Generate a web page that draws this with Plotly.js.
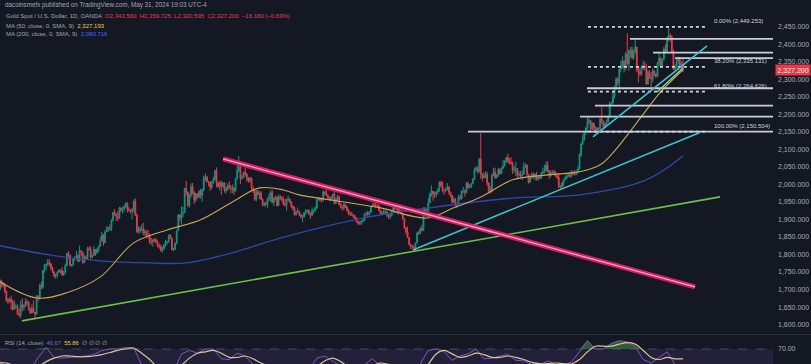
<!DOCTYPE html>
<html><head><meta charset="utf-8">
<script src="https://cdn.plot.ly/plotly-3.0.1.min.js"></script>
<style>html,body{margin:0;padding:0;background:#141823;overflow:hidden}#chart{width:811px;height:364px}</style>
</head><body><div id="chart"></div>
<script>
// Daily sessions, Oct 3 2022 .. May 31 2024 (one value per session)
const closes = [
1701,1725,1716,1712,1695,1668,1666,1673,1666,1644,1650,1652,1629,1627,1657,1649,1652,1665,1663,1645,1633,
1647,1636,1630,1681,1676,1712,1706,1755,1771,1772,1778,1774,1761,1751,1738,1740,1750,1755,1754,1741,1749,1768,
1803,1797,1769,1771,1787,1789,1797,1781,1810,1807,1777,1793,1788,1817,1814,1792,1798,1814,1804,1815,1824,
1839,1855,1833,1865,1872,1877,1875,1897,1920,1916,1908,1905,1932,1926,1931,1936,1946,1929,1928,1923,1928,
1951,1912,1865,1867,1872,1874,1861,1865,1854,1854,1836,1836,1842,1841,1835,1825,1822,1811,1817,1826,
1836,1836,1855,1846,1813,1815,1831,1868,1913,1904,1918,1919,1989,1978,1940,1970,1993,1978,1956,1973,1964,1980,1969,
1984,2020,2021,2008,2007,1991,2003,2014,2040,2004,1995,2005,1994,2004,1983,1989,1997,1990,1988,1990,
1982,2017,2039,2050,2017,2021,2035,2030,2015,2010,2017,1989,1982,1957,1978,1971,1975,1957,1941,1946,1943,1959,1963,
1977,1948,1961,1963,1940,1965,1961,1957,1943,1942,1958,1958,1950,1936,1932,1913,1921,1923,1913,1907,1908,1919,
1921,1926,1915,1911,1925,1925,1932,1957,1961,1955,1955,1979,1976,1969,1962,1954,1965,1972,1946,1959,1965,
1944,1934,1933,1943,1936,1925,1915,1913,1914,1906,1901,1892,1889,1889,1895,1898,1915,1917,1914,1921,1937,1942,1940,
1940,1939,1926,1916,1919,1919,1922,1913,1908,1910,1924,1934,1931,1930,1920,1925,1916,1901,1875,1865,1849,
1828,1822,1821,1820,1833,1861,1860,1874,1868,1933,1919,1923,1947,1974,1981,1973,1971,1979,1985,2006,1996,1983,
1983,1985,1993,1978,1969,1950,1958,1940,1946,1963,1959,1981,1981,1977,2002,1990,1992,2002,2014,2042,2045,2036,
2072,2029,2019,2025,2028,2004,1982,1980,2027,2035,2019,2027,2041,2031,2046,2053,2067,2077,2065,2063,
2059,2041,2043,2045,2027,2029,2025,2029,2049,2055,2029,2006,2023,2029,2021,2029,2015,2021,2018,2032,2037,2039,
2055,2039,2025,2035,2035,2034,2024,2020,1992,1992,2004,2013,2018,2025,2025,2024,2036,2031,2029,2034,2044,
2083,2115,2128,2148,2160,2179,2182,2158,2175,2162,2155,2160,2157,2186,2181,2165,2172,2179,2195,2232,2233,
2251,2280,2300,2291,2329,2339,2352,2333,2372,2344,2383,2383,2361,2379,2392,2327,2322,2316,2332,2337,2335,2286,
2320,2303,2301,2324,2314,2309,2346,2360,2336,2358,2386,2377,2415,2425,2421,2379,2329,2334,2351,2360,2338,2343,2327.2
];
const highs = [
1704,1730,1726,1721,1718,1697,1676,1677,1682,1671,1669,1660,1657,1646,1669,1675,1659,1675,1671,1667,1648,
1658,1669,1636,1684,1684,1717,1722,1756,1772,1774,1787,1786,1774,1765,1750,1745,1752,1758,1757,1764,1754,1774,
1804,1810,1800,1773,1789,1795,1810,1800,1825,1813,1807,1798,1797,1822,1823,1823,1800,1823,1815,1820,1826,
1850,1865,1858,1869,1881,1878,1886,1901,1922,1930,1917,1924,1936,1935,1936,1942,1949,1949,1935,1929,1932,
1957,1960,1917,1880,1881,1886,1890,1872,1869,1870,1860,1847,1844,1847,1847,1840,1832,1828,1822,1830,
1842,1838,1857,1858,1848,1819,1835,1870,1915,1913,1937,1936,1990,2010,1980,1973,2003,2004,1980,1975,1975,1984,1987,
1989,2025,2032,2024,2010,2008,2010,2022,2040,2048,2008,2010,2011,2007,2006,1994,2003,2009,1998,2000,
1992,2019,2063,2081,2056,2027,2036,2048,2031,2021,2022,2020,1994,1985,1984,1984,1981,1980,1960,1949,1951,1962,1975,
1983,1983,1963,1969,1966,1971,1970,1966,1965,1958,1959,1968,1960,1951,1941,1937,1925,1934,1925,1916,1913,1921,
1930,1928,1929,1920,1935,1929,1938,1959,1964,1963,1959,1983,1981,1987,1971,1964,1966,1973,1982,1962,1970,
1967,1947,1940,1947,1945,1937,1930,1923,1921,1915,1913,1907,1897,1895,1898,1904,1917,1922,1925,1924,1938,1947,1949,
1953,1945,1942,1927,1923,1929,1926,1925,1917,1917,1928,1937,1937,1947,1931,1930,1926,1916,1903,1879,1880,
1850,1831,1827,1826,1834,1865,1868,1877,1885,1934,1934,1933,1962,1976,1997,1981,1980,1980,1990,2009,2010,2008,
1987,1992,2004,1994,1978,1970,1965,1961,1947,1970,1971,1983,1993,1986,2007,2008,2000,2004,2018,2048,2052,2051,
2075,2146,2031,2035,2037,2036,2007,1995,2030,2048,2047,2030,2047,2046,2049,2070,2069,2078,2088,2075,
2078,2065,2053,2064,2047,2037,2038,2040,2063,2060,2057,2030,2025,2034,2034,2032,2036,2025,2025,2035,2048,2055,
2065,2066,2040,2040,2040,2043,2037,2029,2032,1998,2007,2016,2023,2031,2033,2035,2041,2037,2041,2039,2052,
2088,2120,2142,2152,2165,2195,2189,2184,2177,2175,2166,2163,2163,2189,2222,2181,2176,2185,2196,2236,2236,
2265,2281,2305,2305,2330,2354,2365,2354,2378,2431,2384,2392,2393,2385,2417,2392,2334,2335,2340,2353,2350,2344,
2326,2326,2320,2331,2327,2318,2349,2378,2364,2359,2392,2400,2422,2450,2431,2426,2385,2342,2358,2365,2362,2351,2359.7
];
const lows = [
1660,1697,1706,1706,1690,1666,1659,1662,1642,1640,1643,1645,1628,1622,1617,1638,1640,1650,1655,1640,1631,
1632,1634,1616,1628,1666,1672,1700,1702,1748,1755,1766,1767,1755,1747,1735,1730,1734,1747,1746,1739,1740,1745,
1768,1787,1766,1765,1766,1781,1786,1778,1779,1796,1773,1775,1784,1787,1811,1785,1792,1797,1796,1802,1807,
1822,1838,1825,1833,1865,1864,1867,1867,1894,1911,1896,1895,1901,1921,1917,1922,1932,1920,1921,1917,1900,
1920,1910,1861,1860,1860,1867,1855,1853,1848,1845,1830,1827,1822,1836,1831,1820,1816,1808,1805,1813,
1822,1829,1834,1845,1812,1809,1812,1829,1867,1895,1886,1906,1919,1968,1935,1934,1962,1971,1944,1950,1959,1960,1959,
1950,1980,2010,2004,1995,1981,1986,2002,2011,1992,1990,1983,1969,1990,1976,1974,1981,1986,1974,1975,
1970,1979,2012,2034,2001,2014,2018,2022,2008,2004,2006,1985,1975,1953,1951,1969,1958,1957,1937,1936,1939,1932,1952,
1951,1946,1938,1954,1936,1939,1956,1951,1940,1937,1925,1952,1946,1932,1925,1912,1911,1919,1910,1903,1893,1904,
1912,1919,1913,1902,1910,1915,1922,1930,1954,1951,1948,1951,1968,1966,1957,1952,1954,1955,1943,1943,1951,
1940,1931,1925,1927,1932,1922,1913,1910,1910,1905,1901,1890,1885,1884,1884,1891,1895,1911,1905,1911,1918,1935,1937,
1932,1936,1923,1914,1915,1914,1915,1907,1901,1901,1911,1920,1926,1926,1913,1919,1914,1900,1873,1857,1847,
1826,1815,1816,1813,1810,1832,1856,1857,1866,1868,1912,1908,1922,1946,1965,1953,1961,1963,1971,1978,1992,1977,
1970,1978,1982,1970,1963,1945,1947,1937,1932,1940,1956,1957,1975,1965,1974,1988,1989,1990,2001,2013,2036,2031,
2034,2016,2009,2017,2018,1995,1975,1973,1977,2024,2015,2017,2021,2028,2030,2044,2051,2061,2061,2057,
2057,2030,2034,2024,2016,2022,2020,2013,2029,2047,2023,2002,2007,2015,2016,2011,2011,2010,2015,2014,2030,2031,
2035,2035,2015,2021,2030,2025,2021,2015,1990,1984,1990,1995,2011,2016,2021,2019,2020,2027,2025,2026,2031,
2043,2079,2112,2124,2141,2155,2170,2150,2156,2154,2152,2146,2146,2151,2172,2157,2160,2168,2175,2190,2224,
2228,2245,2270,2283,2268,2319,2331,2319,2325,2341,2324,2362,2357,2355,2373,2320,2291,2309,2310,2327,2325,2285,
2285,2301,2277,2291,2308,2303,2306,2337,2334,2336,2354,2373,2376,2409,2407,2375,2326,2325,2332,2341,2335,2323,2320.6
];
const firstOpen = 1660;

// Moving averages (session index, price)
const ma50Idx = [1,24,43,64,85,106,127,147,164,179,189,208,240,269,286,303,323,345,365,378,386,407,416,430];
const ma50Val = [1722,1676,1691,1736,1833,1870,1899,1950,1990,1984,1970,1956,1933,1904,1933,1964,2013,2027,2036,2056,2090,2212,2264,2327];
const ma200Idx = [1,32,64,95,118,147,177,229,271,323,365,407,430];
const ma200Val = [1825,1799,1782,1776,1776,1805,1847,1904,1933,1961,1970,2013,2081];

// RSI pane, read every 5 sessions
const rsiVal = [55,42,38,43,40,58,72,58,57,58,58,60,62,68,70,70,72,72,47,37,35,42,38,63,68,64,70,70,56,55,64,60,48,42,47,45,44,38,36,40,57,60,52,43,38,31,48,56,46,44,48,30,22,49,68,70,66,54,60,63,70,56,57,60,62,54,53,48,47,53,48,46,52,66,82,70,70,78,82,80,74,55,50,58,66,48,47];
const rsiMaVal = [50,50,46,43,41,45,52,57,60,60,59,59,60,62,65,68,70,71,64,55,44,38,39,47,57,64,66,68,64,58,58,60,56,50,46,46,45,42,39,38,45,53,57,52,44,37,38,46,50,48,46,40,32,34,48,63,68,63,58,60,64,62,58,58,60,58,55,51,49,49,50,49,49,55,66,74,74,74,77,79,77,68,58,55,58,56,56];
const rsiStep = 5;

// Axis ticks
const priceTicks = [1600,1650,1700,1750,1800,1850,1900,1950,2000,2050,2100,2150,2200,2250,2300,2350,2400,2450];
const rsiTicks = [70,50];

// Drawings (session index, price)
const fibLevels = [2449.253, 2335.131, 2264.626, 2150.504];
const fibLabels = ['0.00% (2,449.253)','38.20% (2,335.131)','61.80% (2,264.626)','100.00% (2,150.504)'];
const fibFrom = 370.3, fibTo = 445.1;
const hLevels = [2414.9, 2375.8, 2359.9, 2274.3, 2224.7, 2193.3, 2150.5];
const hStart  = [396.7, 411.2, 425.0, 369.7, 374.7, 365.3, 295.0];
const pinkX = [141.1, 437.6], pinkY = [2072.6, 1707.6];
const greenX = [14.8, 453.3], greenY = [1610.6, 1964.3];
const tealX = [260.4, 440.7], tealY = [1813.1, 2148.2];
const teal2X = [373.5, 445.1], teal2Y = [2135.4, 2395.0];
const lgX = [413.7, 430.0], lgY = [2263.7, 2332.2];

const idx = closes.map((_, i) => i);
const opens = closes.map((c, i) => i === 0 ? firstOpen : closes[i - 1]);
const rsiIdx = rsiVal.map((_, k) => k * rsiStep);
const fmt = v => v.toLocaleString('en-US', {minimumFractionDigits: 3, maximumFractionDigits: 3});

const FONT = 'Liberation Sans, Arial, sans-serif';
const traces = [];
traces.push({type:'candlestick', x: idx, open: opens, high: highs, low: lows, close: closes,
  increasing:{line:{color:'#089981', width:1}, fillcolor:'#089981'},
  decreasing:{line:{color:'#f23645', width:1}, fillcolor:'#f23645'},
  whiskerwidth:0, hoverinfo:'skip', showlegend:false, xaxis:'x', yaxis:'y'});
traces.push({type:'scatter', mode:'lines', x: ma200Idx, y: ma200Val, line:{color:'#2f48a8', width:1.3, shape:'spline'}, hoverinfo:'skip', showlegend:false});
traces.push({type:'scatter', mode:'lines', x: ma50Idx, y: ma50Val, line:{color:'#c9a557', width:1.1, shape:'spline'}, hoverinfo:'skip', showlegend:false});
// horizontal levels
hLevels.forEach((lv, i) => traces.push({type:'scatter', mode:'lines', x:[hStart[i], 520], y:[lv, lv], line:{color:'#c9ccd4', width:1.8}, hoverinfo:'skip', showlegend:false}));
fibLevels.forEach(lv => traces.push({type:'scatter', mode:'lines', x:[fibFrom, fibTo], y:[lv, lv], line:{color:'#d1d4dc', width:1.6, dash:'dot'}, hoverinfo:'skip', showlegend:false}));
// trend lines
traces.push({type:'scatter', mode:'lines', x: greenX, y: greenY, line:{color:'#6cc04a', width:1.6}, hoverinfo:'skip', showlegend:false});
traces.push({type:'scatter', mode:'lines', x: tealX, y: tealY, line:{color:'#3fc3cc', width:1.6}, hoverinfo:'skip', showlegend:false});
traces.push({type:'scatter', mode:'lines', x: teal2X, y: teal2Y, line:{color:'#3fc3cc', width:1.6}, hoverinfo:'skip', showlegend:false});
traces.push({type:'scatter', mode:'lines', x: lgX, y: lgY, line:{color:'#8fd694', width:1.4}, hoverinfo:'skip', showlegend:false});
traces.push({type:'scatter', mode:'lines', x: pinkX, y: pinkY, line:{color:'#d81b60', width:5}, hoverinfo:'skip', showlegend:false});
traces.push({type:'scatter', mode:'lines', x: pinkX, y: pinkY, line:{color:'#f7a9c8', width:1.3}, hoverinfo:'skip', showlegend:false});
// RSI
traces.push({type:'scatter', mode:'lines', x: rsiIdx, y: rsiVal.map(() => 70), line:{width:0}, hoverinfo:'skip', showlegend:false, xaxis:'x', yaxis:'y2'});
traces.push({type:'scatter', mode:'lines', x: rsiIdx, y: rsiVal.map(v => Math.max(v, 70)), line:{width:0}, fill:'tonexty', fillcolor:'rgba(76,175,80,0.45)', hoverinfo:'skip', showlegend:false, xaxis:'x', yaxis:'y2'});
traces.push({type:'scatter', mode:'lines', x: rsiIdx, y: rsiVal, line:{color:'#7e57c2', width:1}, hoverinfo:'skip', showlegend:false, xaxis:'x', yaxis:'y2'});
traces.push({type:'scatter', mode:'lines', x: rsiIdx, y: rsiMaVal, line:{color:'#d9c78f', width:1.2, shape:'spline'}, hoverinfo:'skip', showlegend:false, xaxis:'x', yaxis:'y2'});

const W = 811, H = 364;
const py = px => 1 - px / H;
const gray = '#a3a6ae';
const annotations = [
  {xref:'paper', yref:'paper', x:3/773, y:py(5), xanchor:'left', yanchor:'middle', showarrow:false,
   text:'dacoinsmefx published on TradingView.com, May 31, 2024 19:03 UTC-4', font:{family:FONT, size:6.3, color:gray}},
  {xref:'paper', yref:'paper', x:4/773, y:py(16.5), xanchor:'left', yanchor:'middle', showarrow:false,
   text:'Gold Spot / U.S. Dollar, 1D, OANDA  <span style="color:#e0404f">O2,343.560  H2,359.725  L2,320.595  C2,327.200  \u221216.160 (\u22120.69%)</span>', font:{family:FONT, size:6, color:gray}},
  {xref:'paper', yref:'paper', x:4/773, y:py(25.7), xanchor:'left', yanchor:'middle', showarrow:false,
   text:'MA (50, close, 0, SMA, 9)  <span style="color:#e8cf5a">2,327.193</span>', font:{family:FONT, size:6, color:gray}},
  {xref:'paper', yref:'paper', x:4/773, y:py(34.3), xanchor:'left', yanchor:'middle', showarrow:false,
   text:'MA (200, close, 0, SMA, 9)  <span style="color:#3d6bff">2,080.716</span>', font:{family:FONT, size:6, color:gray}},
  {xref:'paper', yref:'paper', x:3/773, y:py(343), xanchor:'left', yanchor:'middle', showarrow:false,
   text:'RSI (14, close)  <span style="color:#8a63d2">46.67</span>  <span style="color:#e8cf5a">55.86</span>  \u2205 \u2205 \u2205 \u2205', font:{family:FONT, size:5.8, color:gray}},
  {xref:'paper', yref:'y', x:1, y:closes[closes.length-1], xanchor:'left', yanchor:'middle', xshift:2, showarrow:false,
   text:'2,327.200', bgcolor:'#f23645', borderpad:1.5, font:{family:FONT, size:7, color:'#ffffff'}}
];
fibLevels.forEach((lv, i) => annotations.push({xref:'x', yref:'y', x:448.2, y:lv, xanchor:'left', yanchor:'bottom', yshift:1, showarrow:false,
  text: fibLabels[i], font:{family:FONT, size:6, color:'#d1d4dc'}}));

const layout = {
  width: W, height: H,
  paper_bgcolor:'#141823', plot_bgcolor:'#141823',
  margin:{l:0, r:38, t:0, b:0},
  showlegend:false,
  xaxis:{range:[1.0, 1 + 773/1.592], visible:false, showgrid:false, zeroline:false, rangeslider:{visible:false}, fixedrange:true},
  yaxis:{domain:[31/H, 1], range:[1576, 2526], side:'right', showgrid:false, zeroline:false,
    tickvals: priceTicks, ticktext: priceTicks.map(fmt), ticks:'', ticklabelstandoff:4,
    tickfont:{family:FONT, size:7, color:'#a9acb4'}, showline:false},
  yaxis2:{domain:[0, 28/H], range:[48.6, 88.6], side:'right', anchor:'x', showgrid:false, zeroline:false,
    tickvals: rsiTicks, ticktext: rsiTicks.map(v => v.toFixed(2)), ticks:'', ticklabelstandoff:4,
    tickfont:{family:FONT, size:7, color:'#a9acb4'}},
  shapes:[
    {type:'rect', xref:'paper', yref:'y2', x0:0, x1:1, y0:30, y1:70, fillcolor:'rgba(126,87,194,0.14)', line:{width:0}, layer:'below'},
    {type:'line', xref:'paper', yref:'y2', x0:0, x1:1, y0:70, y1:70, line:{color:'#5d5f6b', width:0.7, dash:'dash'}},
    {type:'line', xref:'paper', yref:'paper', x0:0, x1:W/773, y0:py(334.5), y1:py(334.5), line:{color:'#2a2e39', width:1.2}}
  ],
  annotations
};
Plotly.newPlot('chart', traces, layout, {staticPlot:true, displayModeBar:false});
</script>
</body></html>
